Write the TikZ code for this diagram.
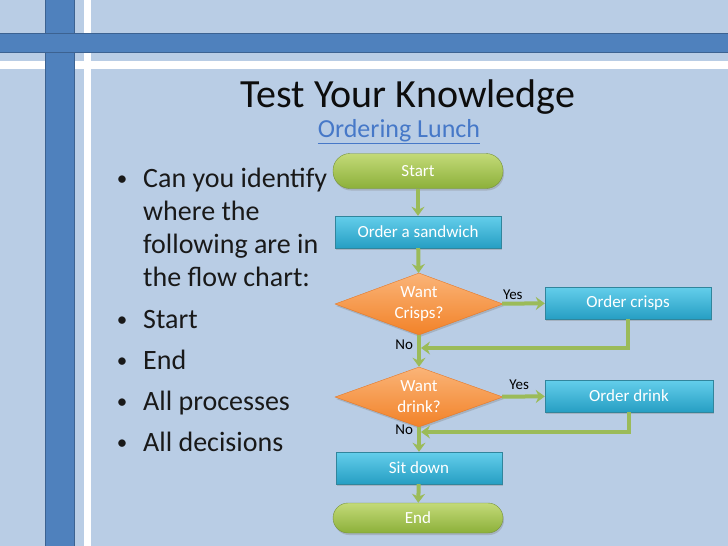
\documentclass[tikz,border=0pt]{standalone}
\usepackage{fontspec}
\setmainfont{Carlito}
\usetikzlibrary{shapes.geometric,arrows.meta,shadows}
\definecolor{slideblue}{RGB}{185,205,229}
\definecolor{barblue}{RGB}{79,129,189}
\definecolor{barline}{RGB}{60,98,145}
\definecolor{linkblue}{RGB}{70,120,200}
\definecolor{termtop}{RGB}{195,218,120}
\definecolor{termbot}{RGB}{140,176,58}
\definecolor{termline}{RGB}{118,146,60}
\definecolor{proctop}{RGB}{100,206,235}
\definecolor{procbot}{RGB}{38,158,195}
\definecolor{procline}{RGB}{49,133,156}
\definecolor{dectop}{RGB}{250,180,120}
\definecolor{decbot}{RGB}{242,130,40}
\definecolor{decline}{RGB}{228,120,40}
\definecolor{flowgreen}{RGB}{155,187,89}

\begin{document}
\begin{tikzpicture}[x=1pt,y=1pt,
    boxtext/.style={text=white,font=\fontsize{17}{21}\selectfont},
    shade/.style={drop shadow={opacity=0.35,shadow xshift=1pt,shadow yshift=-2pt}},
    termbox/.style={boxtext,shade,draw=termline,top color=termtop,bottom color=termbot,
        rounded corners=17pt,minimum width=170pt,minimum height=35pt},
    procbox/.style={boxtext,shade,draw=procline,top color=proctop,bottom color=procbot,
        minimum width=166pt,minimum height=32pt},
    decbox/.style={boxtext,shade,diamond,aspect=2.7,inner sep=0pt,align=center,
        draw=decline,top color=dectop,bottom color=decbot,
        minimum width=168pt,minimum height=62pt},
    flow/.style={flowgreen,line width=4pt,-{Stealth[length=9pt,width=13pt,inset=3pt]}},
    lbl/.style={font=\fontsize{15}{18}\selectfont,inner sep=1pt,text=black},
    bul/.style={font=\fontsize{28}{33}\selectfont,anchor=base west,inner sep=0pt,text=black!90},
    dot/.style={font=\fontsize{21}{21}\selectfont,anchor=base,inner sep=0pt,text=black!90}]

    \useasboundingbox (0,0) rectangle (728,-546);
    \fill[slideblue] (0,0) rectangle (728,-546);
    \fill[white] (84,0) rectangle (91,-546);
    \fill[white] (0,-61) rectangle (728,-69);
    \filldraw[fill=barblue,draw=barline] (45,1) rectangle (74,-547);
    \filldraw[fill=barblue,draw=barline] (-1,-33) rectangle (729,-52);

    \node[anchor=base,font=\fontsize{40}{48}\selectfont,text=black!95] (title) at (408,-107) {Test Your Knowledge};
    \node[anchor=base,font=\fontsize{26}{30}\selectfont,text=linkblue] (link) at (399,-137) {\underline{Ordering Lunch}};

    \foreach \y/\t in {187/Can you identify,328/Start,369/End,410/All processes,451/All decisions}{
        \node[dot] at (122,-\y+2) {\textbullet};
        \node[bul] at (143,-\y) {\t};
    }
    \foreach \y/\t in {220/where the,253/following are in,286/the flow chart:}
        \node[bul] at (143,-\y) {\t};

    \node[termbox] (start) at (418,-171) {Start};
    \node[procbox] (sandwich) at (418,-232) {Order a sandwich};
    \node[decbox] (crisps) at (419,-304) {Want\\Crisps?};
    \node[procbox] (crispsbox) at (628,-303) {Order crisps};
    \node[decbox,minimum height=60pt] (drink) at (419,-397) {Want\\drink?};
    \node[procbox,minimum width=168pt] (drinkbox) at (629,-396) {Order drink};
    \node[procbox] (sit) at (419,-468) {Sit down};
    \node[termbox,minimum height=30pt,rounded corners=15pt] (end) at (418,-518) {End};

    \coordinate (m1) at (421,-348);
    \coordinate (m2) at (421,-432);

    \draw[flow] (start) -- (sandwich);
    \draw[flow] (sandwich) -- (crisps);
    \draw[flow] (crisps) -- node[lbl,above=1pt,pos=0.25] {Yes} (crispsbox);
    \draw[flow] (crisps) -- node[lbl,left=3pt,pos=0.3] {No} (drink);
    \draw[flow] (crispsbox.south) |- (m1);
    \draw[flow] (drink) -- node[lbl,above=4pt,pos=0.4] {Yes} (drinkbox);
    \draw[flow] (drink) -- node[lbl,left=3pt,pos=0.1] {No} (sit);
    \draw[flow] (drinkbox.south) |- (m2);
    \draw[flow] (sit) -- (end);
\end{tikzpicture}
\end{document}
